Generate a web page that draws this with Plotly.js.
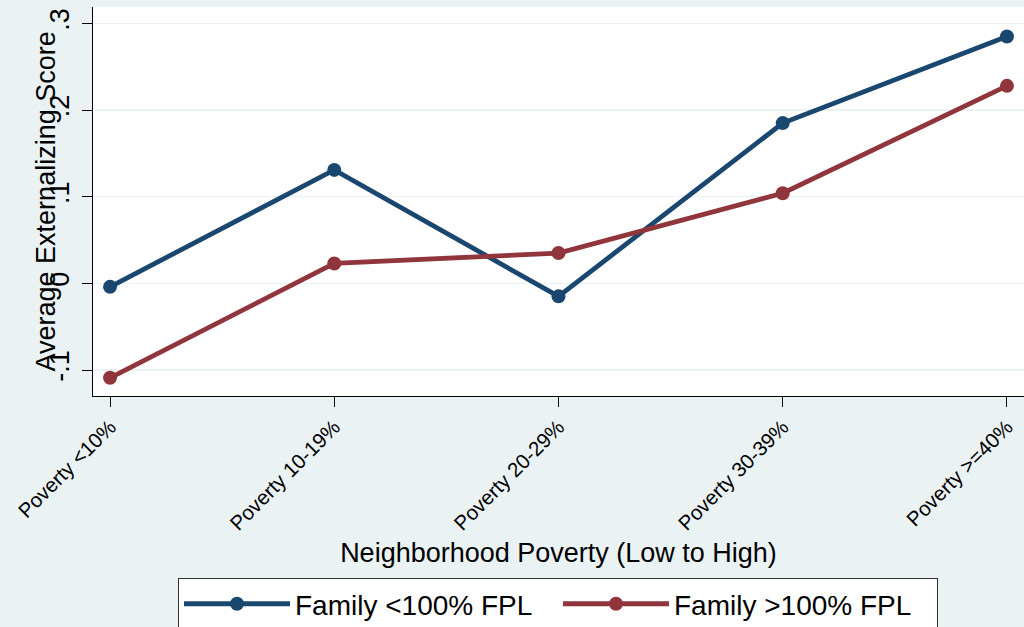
<!DOCTYPE html>
<html><head><meta charset="utf-8">
<script src="https://cdn.plot.ly/plotly-3.0.1.min.js"></script>
<style>html,body{margin:0;padding:0;background:#eaf2f3;}#chart{width:1024px;height:627px;}</style>
</head><body><div id="chart"></div>
<script>
var categories = ["Poverty <10%", "Poverty 10-19%", "Poverty 20-29%", "Poverty 30-39%", "Poverty >=40%"];
var seriesNames = ["Family <100% FPL", "Family >100% FPL"];
var belowFPL = [-0.004, 0.131, -0.015, 0.185, 0.285];
var aboveFPL = [-0.109, 0.023, 0.035, 0.104, 0.228];
var yTickVals = [-0.1, 0, 0.1, 0.2, 0.3];
var yTickText = ["-.1", "0", ".1", ".2", ".3"];
var yTitle = "Average Externalizing Score";
var xTitle = "Neighborhood Poverty (Low to High)";
var colors = ["#1a476f", "#90353b"];

var font = "Liberation Sans, Arial, sans-serif";
var xIdx = categories.map(function(c, i){ return i; });
var traces = [belowFPL, aboveFPL].map(function(vals, k){
  return {x: xIdx, y: vals, name: seriesNames[k], type: "scatter", mode: "lines+markers",
    line: {color: colors[k], width: 4.8}, marker: {color: colors[k], size: 14}};
});

var layout = {
  width: 1024, height: 627,
  paper_bgcolor: "#eaf2f3", plot_bgcolor: "#ffffff",
  margin: {l: 93, r: 0, t: 7, b: 231, autoexpand: false},
  font: {family: font, color: "#000"},
  showlegend: true,
  xaxis: {range: [-0.076, 4.076], tickmode: "array", tickvals: xIdx, ticktext: categories,
    tickangle: -45, tickfont: {size: 20.5}, ticks: "outside", ticklen: 10, tickcolor: "#000", tickwidth: 1,
    showgrid: false, zeroline: false, showline: true, linecolor: "#000", linewidth: 1, automargin: false,
    title: {text: xTitle, font: {size: 27}, standoff: 9}},
  yaxis: {range: [-0.13, 0.319], tickmode: "array", tickvals: yTickVals, ticktext: yTickText,
    tickangle: -90, tickfont: {size: 27}, ticks: "outside", ticklen: 10, tickcolor: "#000", tickwidth: 1,
    ticklabelstandoff: 2,
    showgrid: true, gridcolor: "#eaf2f3", gridwidth: 1.5, zeroline: false, showline: true, linecolor: "#000", linewidth: 1, automargin: false},
  annotations: [{text: yTitle, xref: "paper", yref: "paper", x: -0.0505, y: 0.5,
    xanchor: "center", yanchor: "middle", textangle: -90, showarrow: false, font: {size: 27}}],
  legend: {orientation: "h", x: 0.0913, xanchor: "left", y: -0.468, yanchor: "top",
    bgcolor: "#ffffff", bordercolor: "#333", borderwidth: 1, font: {size: 28}, itemwidth: 106,
    entrywidth: 258, traceorder: "normal"}
};
Plotly.newPlot("chart", traces, layout, {displayModeBar: false, staticPlot: true});
</script></body></html>
